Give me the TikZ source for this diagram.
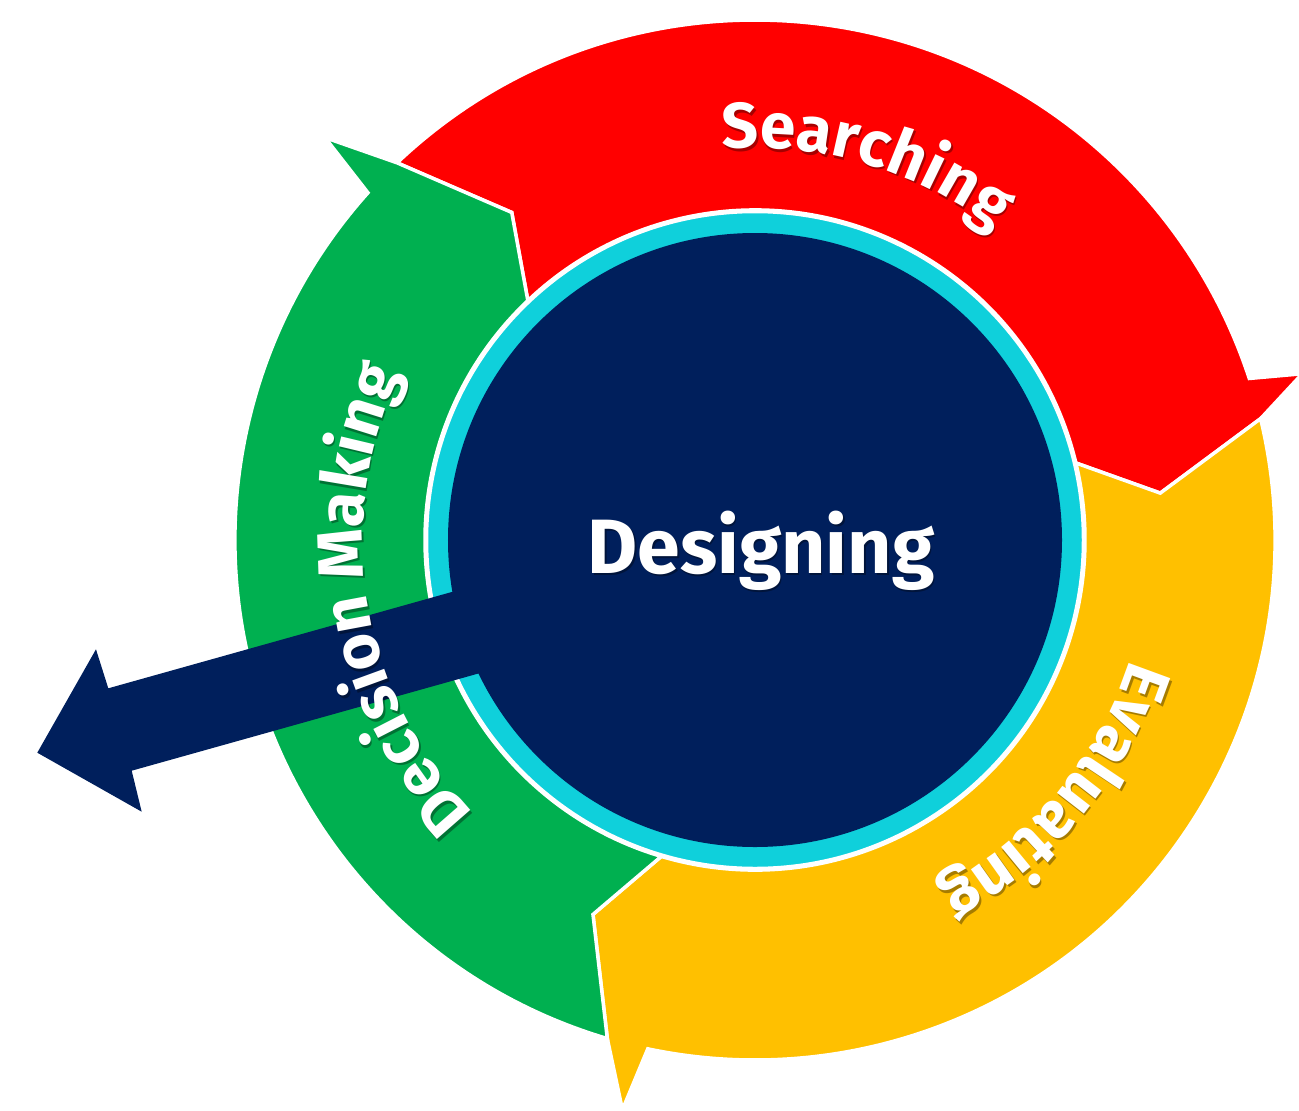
\documentclass[tikz,border=0pt]{standalone}
\usepackage{fontspec}
\newfontfamily\labelfont{Fira Sans}
\usetikzlibrary{decorations.text}

\definecolor{segred}{HTML}{FF0000}
\definecolor{segyellow}{HTML}{FFC000}
\definecolor{seggreen}{HTML}{00B050}
\definecolor{corenavy}{HTML}{001F5C}
\definecolor{ringcyan}{HTML}{0FD0DB}

\newcommand\arcfont{\labelfont\bfseries\fontsize{32}{38}\selectfont}
\newcommand\corefont{\labelfont\bfseries\fontsize{38.5}{46}\selectfont}

\tikzset{
  segment/.style={fill=#1, draw=white, line width=1.75pt, line join=miter},
  arclabel/.style 2 args={decorate, decoration={text along path,
      text align=center, text color=#2, text={|\arcfont|#1}}},
  shadowed/.style={shift={(1.5,-2.5)}, opacity=0.35},
}

\begin{document}
\begin{tikzpicture}[x=0.5pt, y=0.5pt]
  \useasboundingbox (-755,-570) rectangle (544,540);

  % three curved arrows of the cycle: tail angle / head angle / tip radius / colour
  \foreach \ta/\tb/\tr/\col in {133.5/13.5/572/segred,
                                13.5/-106.5/585/segyellow,
                                -106.5/-226.5/589/seggreen}{
    \path[segment=\col]
      (\ta:520) arc[start angle=\ta, end angle={\tb+4.6}, radius=520]
      -- ({\tb+3.4}:\tr) -- (\tb:520) -- ({\tb-6.9}:408) -- (\tb:330)
      arc[start angle=\tb, end angle=\ta, radius=330]
      -- ({\ta-6.9}:408) -- cycle;
  }

  % central disc with its cyan rim
  \fill[ringcyan, draw=white, line width=1.25pt] (0,0) circle[radius=328];
  \node[circle, fill=corenavy, minimum size=307pt, inner sep=0pt] (core) at (0,0) {};

  % outgoing arrow leaving the core
  \coordinate (shaftTop) at (-165.2,-13.3);
  \coordinate (shaftBot) at (-141.8,-95.7);
  \coordinate (neckTop) at (-646.7,-148.3);
  \coordinate (neckBot) at (-623.3,-230.7);
  \coordinate (barbTop) at (-659,-109.3);
  \coordinate (barbBot) at (-613.3,-271.7);
  \coordinate (tip) at (-717.7,-212.7);
  \fill[corenavy] (shaftTop) -- (neckTop) -- (barbTop) -- (tip)
    -- (barbBot) -- (neckBot) -- (shaftBot) -- cycle;

  % curved labels (soft shadow first, then white text)
  \begin{scope}[shadowed]
    \path[arclabel={Searching}{black}] (133.5:392) arc[start angle=133.5, end angle=13.5, radius=392];
    \path[arclabel={Evaluating}{black}] (20:394) arc[start angle=20, end angle=-100, radius=394];
    \path[arclabel={Decision Making}{black}] (249.5:392) arc[start angle=249.5, end angle=129.5, radius=392];
    \node[anchor=base, text=black, font=\corefont] (coreshadow) at (6,-33) {Designing};
  \end{scope}
  \path[arclabel={Searching}{white}] (133.5:392) arc[start angle=133.5, end angle=13.5, radius=392];
  \path[arclabel={Evaluating}{white}] (20:394) arc[start angle=20, end angle=-100, radius=394];
  \path[arclabel={Decision Making}{white}] (249.5:392) arc[start angle=249.5, end angle=129.5, radius=392];
  \node[anchor=base, text=white, font=\corefont] (corelabel) at (6,-33) {Designing};
\end{tikzpicture}
\end{document}
